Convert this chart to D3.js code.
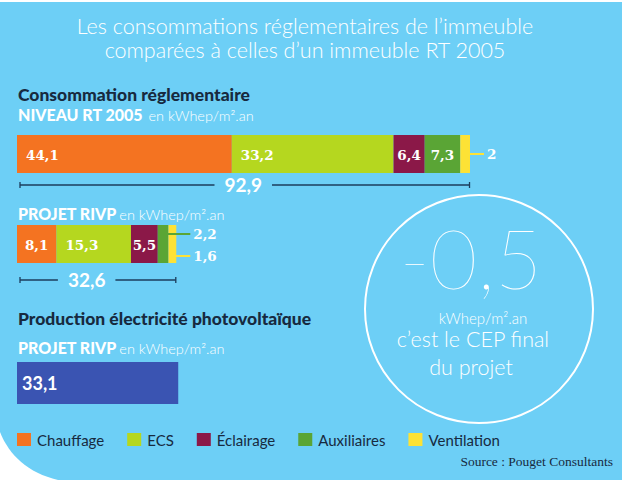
<!DOCTYPE html>
<html><head><meta charset="utf-8">
<script src="https://cdn.jsdelivr.net/npm/d3@7"></script>
<style>html,body{margin:0;padding:0;background:#fff}svg{display:block}</style>
</head><body>
<script>
// ---- data ----
const categories = ["Chauffage", "ECS", "Éclairage", "Auxiliaires", "Ventilation"];
const rt2005Values = [44.1, 33.2, 6.4, 7.3, 2];
const rivpValues = [8.1, 15.3, 5.5, 2.2, 1.6];
const totalLabels = [92.9, 32.6];
const pvProduction = [33.1];
const cepFinal = -0.5;
const titleLines = ["Les consommations réglementaires de l’immeuble", "comparées à celles d’un immeuble RT 2005"];

// ---- styles ----
const W = 622, H = 480;
const colors = ["#f47321", "#b5d71f", "#8b1848", "#5aa535", "#fde235"];
const bg = "#6dcff6", dark = "#172a3f", lineCol = "#1d3d5c";
const fmt = v => String(v).replace(".", ",");

const svg = d3.select("body").append("svg").attr("width", W).attr("height", H);
svg.append("rect").attr("width", W).attr("height", H).attr("fill", "#fff");
svg.append("path").attr("fill", bg)
  .attr("d", "M0,2 H622 V480 H58 C28,473 9,455 0,432 Z");

// title
svg.append("g").selectAll("text").data(titleLines).join("text")
  .attr("x", 305).attr("y", (d, i) => 34 + i * 24)
  .attr("text-anchor", "middle").attr("fill", "#fff")
  .style("font", "300 21.5px Lato").text(d => d);

const x = d3.scaleLinear().domain([0, d3.sum(rt2005Values)]).range([17, 470]);

function heading(txt, y) {
  svg.append("text").attr("x", 18).attr("y", y).attr("fill", dark)
    .style("font", "900 17.5px Lato").text(txt);
}
function subHeading(bold, light, y, gap) {
  const t = svg.append("text").attr("x", 18).attr("y", y).attr("fill", "#fff");
  t.append("tspan").style("font", "900 16px Lato").text(bold);
  t.append("tspan").attr("dx", gap).style("font", "300 14.5px Lato").text(light);
}

heading("Consommation réglementaire", 101);
subHeading("NIVEAU RT 2005", "en kWhep/m².an", 121, 6);
subHeading("PROJET RIVP", "en kWhep/m².an", 220, 3);
heading("Production électricité photovoltaïque", 325);
subHeading("PROJET RIVP", "en kWhep/m².an", 354, 3);

function stackedBar(values, y, h, totalY, total, totalLabelX) {
  let acc = 0;
  const segs = values.map((v, i) => { const s = { v, i, x0: acc, x1: acc + v }; acc += v; return s; });
  const g = svg.append("g");
  g.selectAll("rect").data(segs).join("rect")
    .attr("x", d => x(d.x0)).attr("y", y)
    .attr("width", d => x(d.x1) - x(d.x0)).attr("height", h)
    .attr("fill", d => colors[d.i]);
  const inside = segs.filter(d => x(d.x1) - x(d.x0) >= 15);
  const outside = segs.filter(d => x(d.x1) - x(d.x0) < 15);
  g.selectAll("text.in").data(inside).join("text")
    .attr("x", d => { const w = x(d.x1) - x(d.x0); return w > 60 ? x(d.x0) + 9 : (x(d.x0) + x(d.x1)) / 2; })
    .attr("text-anchor", d => (x(d.x1) - x(d.x0)) > 60 ? "start" : "middle")
    .attr("y", y + h / 2 + 5.5).attr("fill", "#fff")
    .style("font", "bold 13.5px 'DejaVu Serif'").text(d => fmt(d.v));
  const end = x(acc);
  const lx = end + 17;
  outside.forEach((d, k) => {
    const yy = outside.length === 1 ? y + h / 2 : (k === 0 ? y + 9 : y + h - 7);
    g.append("line").attr("x1", x(d.x1) - 1).attr("x2", lx - 3).attr("y1", yy).attr("y2", yy)
      .attr("stroke", colors[d.i]).attr("stroke-width", 2);
    g.append("text").attr("x", lx).attr("y", yy + 5).attr("fill", "#fff")
      .style("font", "bold 13.5px 'DejaVu Serif'").text(fmt(d.v));
  });
  // total
  const tx = x(totalLabelX);
  const lab = g.append("text").attr("x", tx).attr("y", totalY + 6.5).attr("text-anchor", "middle")
    .attr("fill", "#fff").style("font", "bold 19px Lato").text(fmt(total));
  const tw = lab.node().getComputedTextLength();
  const a = x(0) + 3, b = x(total);
  g.append("line").attr("x1", a).attr("x2", tx - tw / 2 - 10).attr("y1", totalY).attr("y2", totalY)
    .attr("stroke", lineCol).attr("stroke-width", 1.3);
  g.append("line").attr("x1", tx + tw / 2 + 10).attr("x2", b).attr("y1", totalY).attr("y2", totalY)
    .attr("stroke", lineCol).attr("stroke-width", 1.3);
  [a, b].forEach(p => g.append("line").attr("x1", p).attr("x2", p)
    .attr("y1", totalY - 3).attr("y2", totalY + 3).attr("stroke", lineCol).attr("stroke-width", 1.3));
}

stackedBar(rt2005Values, 135, 38, 185, totalLabels[0], totalLabels[0] / 2);
stackedBar(rivpValues, 225, 38, 280, totalLabels[1], totalLabels[1] / 2 - 2);

// PV bar
svg.append("g").selectAll("rect").data(pvProduction).join("rect")
  .attr("x", x(0)).attr("y", 362).attr("width", d => x(d) - x(0)).attr("height", 42)
  .attr("fill", "#3a54b2");
svg.append("g").selectAll("text").data(pvProduction).join("text")
  .attr("x", x(0) + 5).attr("y", 390).attr("fill", "#fff")
  .style("font", "bold 18px Lato").text(d => fmt(d));

// circle
svg.append("circle").attr("cx", 479).attr("cy", 309).attr("r", 114)
  .attr("fill", "none").attr("stroke", "#fff").attr("stroke-width", 2);
svg.append("text").attr("x", 471).attr("y", 289).attr("text-anchor", "middle").attr("fill", "#fff")
  .style("font", "100 82px Lato").text(fmt(cepFinal));
svg.append("text").attr("x", 483).attr("y", 324).attr("text-anchor", "middle").attr("fill", "#fff")
  .style("font", "300 15px Lato").text("kWhep/m².an");
svg.append("text").attr("x", 473).attr("y", 347).attr("text-anchor", "middle").attr("fill", "#fff")
  .style("font", "300 21.5px Lato").text("c’est le CEP final");
svg.append("text").attr("x", 471).attr("y", 375).attr("text-anchor", "middle").attr("fill", "#fff")
  .style("font", "300 21.5px Lato").text("du projet");

// legend
const leg = svg.append("g");
let lx = 17;
categories.forEach((c, i) => {
  leg.append("rect").attr("x", lx).attr("y", 433).attr("width", 14).attr("height", 13).attr("fill", colors[i]);
  const t = leg.append("text").attr("x", lx + 20).attr("y", 446).attr("fill", dark)
    .style("font", "400 15px Lato").text(c);
  lx += 20 + t.node().getComputedTextLength() + 23;
});

// source
svg.append("text").attr("x", 613).attr("y", 466).attr("text-anchor", "end").attr("fill", dark)
  .style("font", "13.5px 'Liberation Serif'").text("Source : Pouget Consultants");
</script>
</body></html>
